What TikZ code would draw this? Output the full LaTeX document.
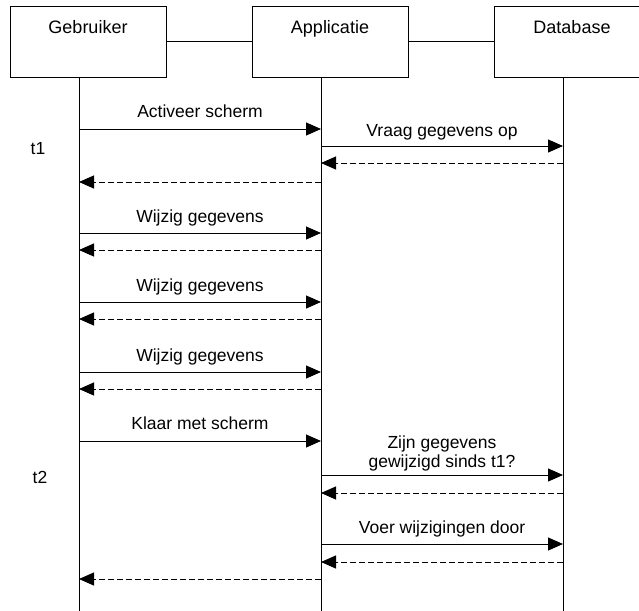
\documentclass[tikz,border=0pt]{standalone}
\usepackage{fontspec}
\setmainfont{Liberation Sans}
\usetikzlibrary{arrows.meta,calc}
\begin{document}
\begin{tikzpicture}[x=1pt,y=-1pt,
  actor/.style={draw,line width=1pt,minimum width=156pt,minimum height=70pt,inner sep=0pt},
  head/.style={font=\fontsize{18}{20}\selectfont,anchor=base,inner sep=0pt},
  lbl/.style={font=\fontsize{17.5}{19}\selectfont,anchor=base,inner sep=0pt,align=center},
  call/.style={line width=1pt,-{Triangle[length=15pt,width=13pt]}},
  ret/.style={call,dash pattern=on 6pt off 3pt},
  life/.style={line width=1pt}]
\useasboundingbox (0,0) rectangle (639,610);
\fill[white] (0,0) rectangle (639,610);
\begin{scope}
\clip (0,0) rectangle (639,610);
% actors
\node[actor] (g) at (88,42) {};
\node[actor] (a) at (330,42) {};
\node[actor] (d) at (572,42) {};
\node[head] (gt) at (88,34) {Gebruiker};
\node[head] (at) at (330,34) {Applicatie};
\node[head] (dt) at (572,34) {Database};
\draw[life] (g.east) -- (a.west);
\draw[life] (a.east) -- (d.west);
% lifelines
\coordinate (G) at (79,0);
\coordinate (A) at (321,0);
\coordinate (D) at (563,0);
\coordinate (Gb) at (79,612);
\coordinate (Ab) at (321,612);
\coordinate (Db) at (563,612);
\draw[life] (g.south -| G) -- (Gb);
\draw[life] (a.south -| A) -- (Ab);
\draw[life] (d.south -| D) -- (Db);
% time marks
\node[lbl] (t1) at (38,154) {t1};
\node[lbl] (t2) at (40,483) {t2};
% messages
\draw[call] ($(G)+(0,129)$) -- ($(A)+(0,129)$);
\node[lbl] (m1) at ($(G)!0.5!(A)+(0,117)$) {Activeer scherm};
\draw[call] ($(A)+(0,146)$) -- ($(D)+(0,146)$);
\node[lbl] (m2) at ($(A)!0.5!(D)+(0,136)$) {Vraag gegevens op};
\draw[ret] ($(D)+(0,163)$) -- ($(A)+(0,163)$);
\draw[ret] ($(A)+(0,182)$) -- ($(G)+(0,182)$);
\draw[call] ($(G)+(0,233)$) -- ($(A)+(0,233)$);
\node[lbl] (m3) at ($(G)!0.5!(A)+(0,222)$) {Wijzig gegevens};
\draw[ret] ($(A)+(0,250)$) -- ($(G)+(0,250)$);
\draw[call] ($(G)+(0,302)$) -- ($(A)+(0,302)$);
\node[lbl] (m4) at ($(G)!0.5!(A)+(0,291)$) {Wijzig gegevens};
\draw[ret] ($(A)+(0,319)$) -- ($(G)+(0,319)$);
\draw[call] ($(G)+(0,372)$) -- ($(A)+(0,372)$);
\node[lbl] (m5) at ($(G)!0.5!(A)+(0,361)$) {Wijzig gegevens};
\draw[ret] ($(A)+(0,389)$) -- ($(G)+(0,389)$);
\draw[call] ($(G)+(0,441)$) -- ($(A)+(0,441)$);
\node[lbl] (m6) at ($(G)!0.5!(A)+(0,429)$) {Klaar met scherm};
\draw[call] ($(A)+(0,475)$) -- ($(D)+(0,475)$);
\node[lbl] (m7) at ($(A)!0.5!(D)+(0,467)$) {Zijn gegevens\\gewijzigd sinds t1?};
\draw[ret] ($(D)+(0,493)$) -- ($(A)+(0,493)$);
\draw[call] ($(A)+(0,544)$) -- ($(D)+(0,544)$);
\node[lbl] (m8) at ($(A)!0.5!(D)+(0,533)$) {Voer wijzigingen door};
\draw[ret] ($(D)+(0,562)$) -- ($(A)+(0,562)$);
\draw[ret] ($(A)+(0,579)$) -- ($(G)+(0,579)$);
\end{scope}
\end{tikzpicture}
\end{document}
